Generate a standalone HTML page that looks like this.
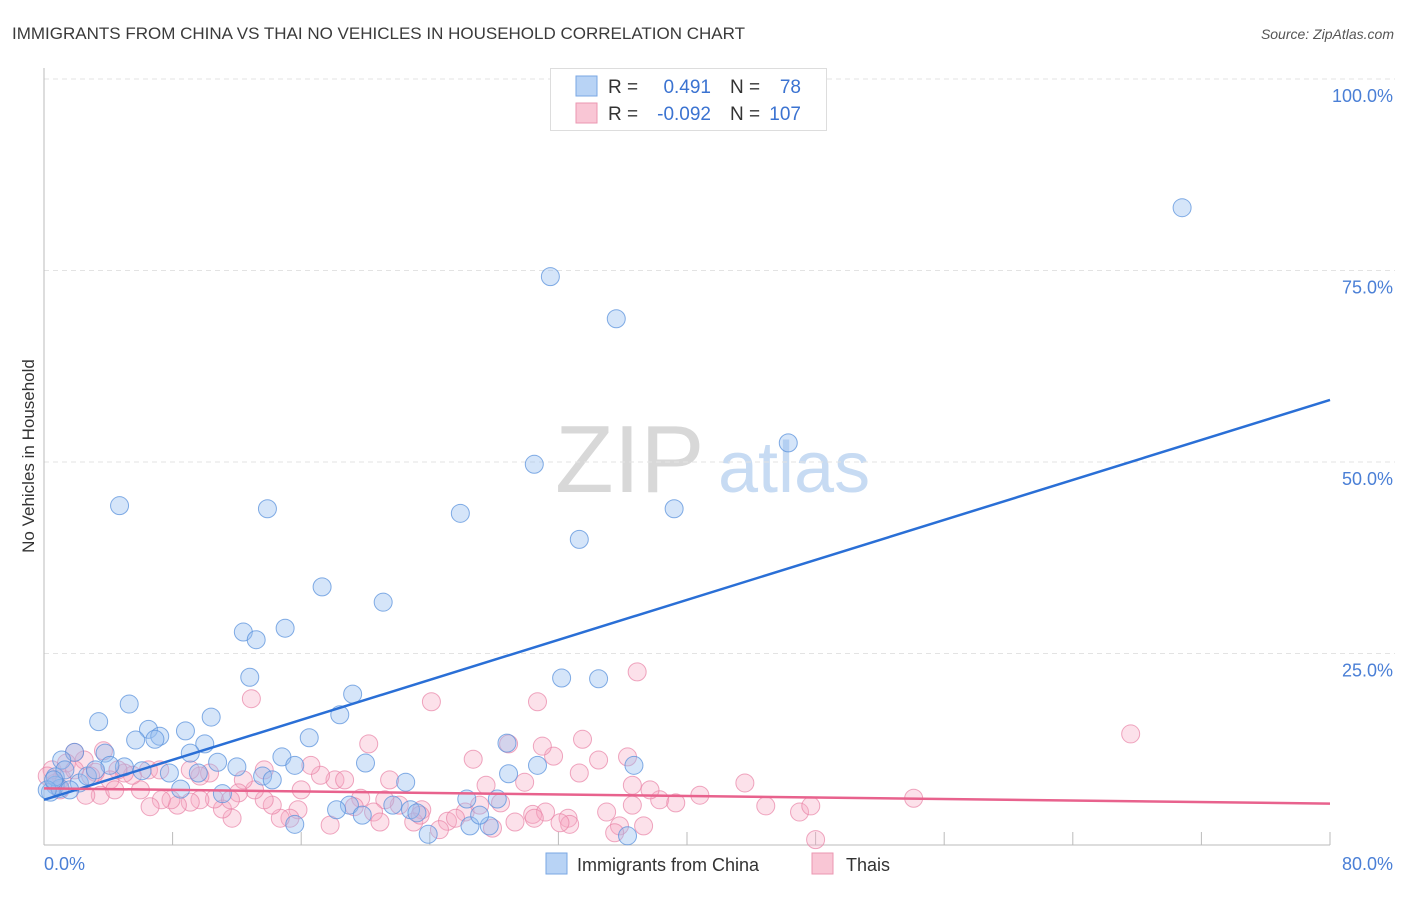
<!DOCTYPE html>
<html><head><meta charset="utf-8"><style>
body{margin:0;background:#fff;font-family:"Liberation Sans",sans-serif;}
svg text{font-family:"Liberation Sans",sans-serif;}
</style></head><body>
<svg id="chart" width="1406" height="892" xmlns="http://www.w3.org/2000/svg">
<text x="12" y="39" font-size="17" fill="#3a3a3a">IMMIGRANTS FROM CHINA VS THAI NO VEHICLES IN HOUSEHOLD CORRELATION CHART</text>
<text x="1394" y="39" font-size="14" fill="#555" text-anchor="end" font-style="italic">Source: ZipAtlas.com</text>
<text transform="translate(34,456) rotate(-90)" font-size="17" fill="#333" text-anchor="middle">No Vehicles in Household</text>
<g>
<text x="555" y="492" font-size="96" fill="#d8d8d8" font-family="Liberation Serif,serif">ZIP</text>
<text x="718" y="492" font-size="72" fill="#c7dbf3">atlas</text>
</g>
<g id="grid"></g><g id="axes"></g><g id="pts"></g><g id="lines"></g>
<g>
<rect x="550.5" y="68.5" width="276" height="62" fill="#fff" stroke="#ddd"/>
<rect x="576" y="76" width="21" height="20" fill="#b8d3f5" stroke="#7aa7e3"/>
<text x="608" y="93" font-size="19" fill="#333">R =</text>
<text x="711" y="93" font-size="19" fill="#3b73d1" text-anchor="end">0.491</text>
<text x="730" y="93" font-size="19" fill="#333">N =</text>
<text x="801" y="93" font-size="19" fill="#3b73d1" text-anchor="end">78</text>
<rect x="576" y="103" width="21" height="20" fill="#f9c6d5" stroke="#eb97b1"/>
<text x="608" y="120" font-size="19" fill="#333">R =</text>
<text x="711" y="120" font-size="19" fill="#3b73d1" text-anchor="end">-0.092</text>
<text x="730" y="120" font-size="19" fill="#333">N =</text>
<text x="801" y="120" font-size="19" fill="#3b73d1" text-anchor="end">107</text>
</g>
<g>
<rect x="546" y="853" width="21" height="21" fill="#b8d3f5" stroke="#7aa7e3"/>
<text x="577" y="871" font-size="18" fill="#333">Immigrants from China</text>
<rect x="812" y="853" width="21" height="21" fill="#f9c6d5" stroke="#eb97b1"/>
<text x="846" y="871" font-size="18" fill="#333">Thais</text>
</g>
</svg>
<script>
const yTicks=[25,50,75,100];
const yTickLabels=["25.0%","50.0%","75.0%","100.0%"];
const xTickVals=[8,16,24,32,40,48,56,64,72,80];
const chinaX=[70.8,31.5,35.6,46.3,30.5,4.7,13.9,25.9,39.2,33.3,17.3,21.1,12.4,13.2,15.0,12.8,32.2,34.5,19.2,5.3,3.4,18.4,10.4,6.5,8.8,5.7,7.2,6.9,10.0,16.5,9.1,1.9,3.8,14.8,15.6,10.8,12.0,20.0,28.8,30.7,36.7,1.1,5.0,6.1,7.8,9.6,13.6,14.2,22.5,28.9,2.2,0.7,0.4,1.0,8.5,19.0,11.1,26.3,28.2,19.8,21.7,22.8,23.2,23.9,26.5,27.7,36.3,15.6,18.2,0.7,1.3,4.1,2.7,1.6,0.2,0.6,3.2,27.1];
const chinaY=[83.2,74.2,68.7,52.5,49.7,44.3,43.9,43.3,43.9,39.9,33.7,31.7,27.8,26.8,28.3,21.9,21.8,21.7,19.7,18.4,16.1,17.0,16.7,15.1,14.9,13.7,14.2,13.8,13.2,14.0,12.0,12.1,12.0,11.5,10.4,10.8,10.2,10.7,13.3,10.4,10.4,11.1,10.2,9.7,9.4,9.4,9.0,8.5,8.2,9.3,8.1,7.8,6.9,7.4,7.3,5.2,6.7,6.0,6.0,3.9,5.2,4.6,4.2,1.4,2.5,2.5,1.2,2.7,4.6,8.9,9.8,10.4,9.0,7.2,7.2,8.5,9.8,3.9];
const thaiX=[67.6,36.9,12.9,24.1,30.7,54.1,43.6,44.9,47.0,47.7,48.0,36.6,36.3,34.5,33.3,33.5,31.7,31.0,28.9,26.7,27.5,29.9,28.4,30.4,31.2,32.6,32.7,35.0,36.6,37.3,38.3,39.3,35.8,27.9,26.2,25.1,24.6,23.5,23.0,22.1,21.2,20.5,20.2,19.7,18.1,17.2,16.6,15.8,15.3,14.7,14.2,13.7,13.1,12.4,12.1,11.7,11.1,10.6,10.3,9.7,9.1,8.3,7.9,7.3,6.6,6.0,5.5,5.0,4.6,4.1,3.7,3.2,2.9,2.5,1.9,1.1,0.7,0.5,0.2,1.4,3.5,4.4,6.5,7.2,9.7,11.6,16.0,18.7,19.3,21.5,23.4,25.6,27.1,29.3,30.5,32.1,35.5,40.8,37.7,13.7,17.8,20.9,9.1,1.9,1.0,2.6];
const thaiY=[14.5,22.6,19.1,18.7,18.7,6.1,8.1,5.1,4.3,5.1,0.7,7.8,11.5,11.1,9.4,13.8,11.6,12.9,13.2,11.2,7.8,8.2,5.5,4.0,4.3,3.5,2.7,4.3,5.2,2.5,5.9,5.5,2.5,2.2,4.3,3.1,2.0,4.6,3.0,5.2,5.9,4.3,13.2,6.1,8.5,9.1,10.4,4.6,3.5,3.5,5.2,5.9,7.2,8.5,6.8,3.5,4.7,6.0,9.4,5.9,5.6,5.2,5.9,5.9,5.0,7.2,9.1,9.4,9.8,8.5,12.3,9.5,9.0,11.1,12.1,8.7,8.1,9.8,9.0,10.7,6.5,7.2,9.8,9.8,9.0,5.9,7.2,8.5,5.0,8.5,3.9,3.5,5.2,3.0,3.5,2.9,1.6,6.5,7.2,9.8,2.6,3.0,9.8,9.8,7.2,6.5];
const chinaTrend=[5.9,58.1];
const thaiTrend=[7.4,5.4];
const X0=44,X1=1330,Y0=845,Y1=79;
const sx=v=>X0+(v/80)*(X1-X0);
const sy=v=>Y0-(v/100)*(Y0-Y1);
const NS="http://www.w3.org/2000/svg";
function mk(tag,attrs,parent){const e=document.createElementNS(NS,tag);for(const k in attrs)e.setAttribute(k,attrs[k]);parent.appendChild(e);return e;}
const grid=document.getElementById('grid'),axes=document.getElementById('axes'),pts=document.getElementById('pts'),lines=document.getElementById('lines');
yTicks.forEach((t,i)=>{
  const l=mk('line',{x1:X0,x2:1395,y1:sy(t),y2:sy(t),stroke:'#e3e3e3','stroke-dasharray':'5,4'},grid);
  
  
  const tx=mk('text',{x:1393,y:sy(t)+23,'font-size':18,fill:'#4a7fd6','text-anchor':'end'},grid);
  tx.textContent=yTickLabels[i];
  
  
});
const ya=mk('line',{x1:X0,x2:X0,y1:68,y2:Y0,stroke:'#bbb'},axes);


const xa=mk('line',{x1:X0,x2:X1,y1:Y0,y2:Y0,stroke:'#bbb'},axes);


xTickVals.forEach(t=>{
  const k=mk('line',{x1:sx(t),x2:sx(t),y1:Y0-13,y2:Y0,stroke:'#bbb'},axes);
  
  
});
const xl0=mk('text',{x:44,y:870,'font-size':18,fill:'#4a7fd6'},axes);xl0.textContent='0.0%';


const xl1=mk('text',{x:1393,y:870,'font-size':18,fill:'#4a7fd6','text-anchor':'end'},axes);xl1.textContent='80.0%';


thaiX.forEach((x,i)=>{
  const c=mk('circle',{cx:sx(x),cy:sy(thaiY[i]),r:9,fill:'rgba(246,168,194,0.35)',stroke:'rgba(232,130,165,0.7)','stroke-width':1},pts);
  
  
});
chinaX.forEach((x,i)=>{
  const c=mk('circle',{cx:sx(x),cy:sy(chinaY[i]),r:9,fill:'rgba(150,190,240,0.4)',stroke:'rgba(90,145,220,0.75)','stroke-width':1},pts);
  
  
});
const bl=mk('line',{x1:sx(0),y1:sy(chinaTrend[0]),x2:sx(80),y2:sy(chinaTrend[1]),stroke:'#2a6fd6','stroke-width':2.5},lines);


const pl=mk('line',{x1:sx(0),y1:sy(thaiTrend[0]),x2:sx(80),y2:sy(thaiTrend[1]),stroke:'#e8628d','stroke-width':2.5},lines);


</script>
</body></html>
